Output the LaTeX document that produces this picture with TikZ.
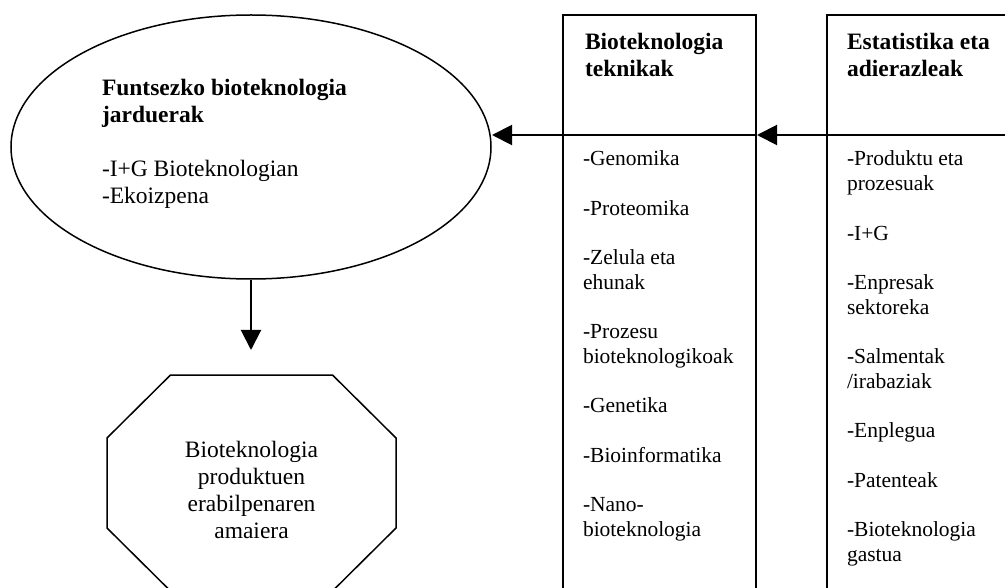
\documentclass[tikz,border=0pt]{standalone}
\usepackage{fontspec}
\setmainfont{Liberation Serif}
\usetikzlibrary{shapes.geometric,arrows.meta}
\begin{document}
\begin{tikzpicture}[x=1pt,y=-1pt,
  bigtxt/.style={font=\fontsize{23.5}{27}\selectfont},
  smalltxt/.style={font=\fontsize{21.5}{24.7}\selectfont},
  txt/.style={inner sep=0pt, outer sep=0pt, align=left, anchor=north west},
  colbox/.style={draw, line width=2pt, minimum width=193pt, minimum height=640pt, inner sep=0pt},
  conn/.style={line width=2pt, -{Triangle[length=20pt,width=20pt]}},
]
\useasboundingbox (0,0) rectangle (1005,588);
\clip (0,0) rectangle (1005,588);

% main activity ellipse
\node[draw, ellipse, line width=1.5pt, minimum width=480pt, minimum height=264pt, inner sep=0pt] (ell) at (251,147) {};
\node[txt, bigtxt] (ellt) at (102,79) {\textbf{Funtsezko bioteknologia}\\\textbf{jarduerak}\\[27pt]-I+G Bioteknologian\\-Ekoizpena};

% two columns
\node[colbox] (box1) at (659.5,335) {};
\node[colbox] (box2) at (923.5,335) {};
\node[txt, bigtxt] (b1h) at (585,33) {\textbf{Bioteknologia}\\\textbf{teknikak}};
\node[txt, bigtxt] (b2h) at (847,33) {\textbf{Estatistika eta}\\\textbf{adierazleak}};
\node[txt, smalltxt] (b1l) at (583,151) {-Genomika\\[24.7pt]-Proteomika\\[24.7pt]-Zelula eta\\ehunak\\[24.7pt]-Prozesu\\bioteknologikoak\\[24.7pt]-Genetika\\[24.7pt]-Bioinformatika\\[24.7pt]-Nano-\\bioteknologia};
\node[txt, smalltxt] (b2l) at (847,151) {-Produktu eta\\prozesuak\\[24.7pt]-I+G\\[24.7pt]-Enpresak\\sektoreka\\[24.7pt]-Salmentak\\/irabaziak\\[24.7pt]-Enplegua\\[24.7pt]-Patenteak\\[24.7pt]-Bioteknologia\\gastua};

% end-of-use octagon
\node[inner sep=0pt, align=center, bigtxt] (oct) at (251.5,490) {Bioteknologia\\produktuen\\erabilpenaren\\amaiera};
\draw[line width=1.5pt, shift={(251.5,483)}]
  (-81,-108) -- (81,-108) -- (144.5,-45) -- (144.5,45) -- (81,108) -- (-81,108) -- (-144.5,45) -- (-144.5,-45) -- cycle;

% connectors
\coordinate (lvl) at (0,135);
\coordinate (ellhit) at (492,135);
\coordinate (octtip) at (251,350);
\draw[conn] (box2.east |- lvl) -- (box1.east |- lvl);
\draw[line width=2pt] (box1.east |- lvl) -- (box1.west |- lvl);
\draw[conn] (box1.west |- lvl) -- (ellhit);
\draw[conn] (ell.south) -- (octtip);
\end{tikzpicture}
\end{document}
